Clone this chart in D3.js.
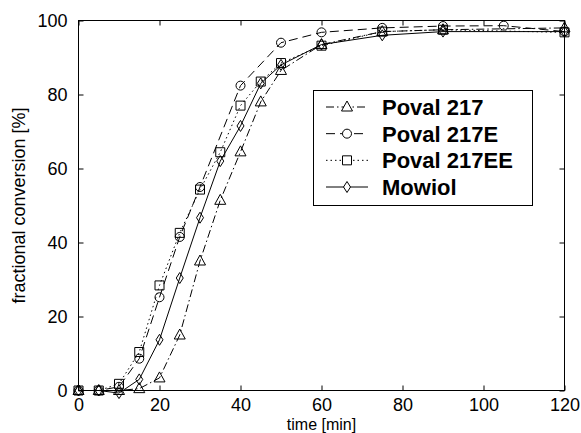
<!DOCTYPE html>
<html>
<head>
<meta charset="utf-8">
<script src="https://cdn.jsdelivr.net/npm/d3@7"></script>
<style>
  html, body { margin: 0; padding: 0; background: #fff; }
  svg { display: block; }
</style>
</head>
<body>
<svg id="chart" width="581" height="433"></svg>
<script>
// ---- data ----
const seriesNames = ["Poval 217", "Poval 217E", "Poval 217EE", "Mowiol"];
const timesPoval217   = [0, 5, 10, 15, 20, 25, 30, 35, 40, 45, 50, 60, 75, 90, 120];
const valuesPoval217  = [0, 0, 0, 0.5, 3.4, 15, 35, 51.4, 64.5, 78, 86.5, 93.5, 97, 97.5, 98];
const timesPoval217E  = [0, 5, 10, 15, 20, 25, 30, 40, 50, 60, 75, 90, 105, 120];
const valuesPoval217E = [0, 0, 1, 8.6, 25.2, 41.5, 55, 82.4, 94, 96.8, 98, 98.5, 98.6, 97];
const timesPoval217EE = [0, 5, 10, 15, 20, 25, 30, 35, 40, 45, 50, 60, 75, 90, 120];
const valuesPoval217EE= [0, 0, 1.8, 10.4, 28.4, 42.6, 54.3, 64.4, 77, 83.5, 88.5, 93.2, 97, 97.5, 96.8];
const timesMowiol     = [0, 5, 10, 15, 20, 25, 30, 35, 40, 45, 50, 60, 75, 90, 120];
const valuesMowiol    = [0, 0, -0.7, 3, 13.7, 30.4, 46.7, 62, 71.5, 83, 88, 93.5, 96, 97, 97];
const xTicks = [0, 20, 40, 60, 80, 100, 120];
const yTicks = [0, 20, 40, 60, 80, 100];
const xLabel = "time [min]";
const yLabel = "fractional conversion [%]";

const series = [
  { name: seriesNames[0], t: timesPoval217,   v: valuesPoval217,   marker: "triangle", dash: "8,3,1.5,3" },
  { name: seriesNames[1], t: timesPoval217E,  v: valuesPoval217E,  marker: "circle",   dash: "9,5" },
  { name: seriesNames[2], t: timesPoval217EE, v: valuesPoval217EE, marker: "square",   dash: "1.5,3" },
  { name: seriesNames[3], t: timesMowiol,     v: valuesMowiol,     marker: "diamond",  dash: null }
];

// ---- layout ----
const svg = d3.select("#chart");
const pL = 78.5, pR = 564.5, pT = 20.5, pB = 390.5;
const x = d3.scaleLinear().domain([0, 120]).range([pL, pR]);
const y = d3.scaleLinear().domain([0, 100]).range([pB, pT]);

const labelFont = "Arial, 'Liberation Sans', sans-serif";

// axes box
svg.append("rect").attr("x", pL).attr("y", pT)
  .attr("width", pR - pL).attr("height", pB - pT)
  .attr("fill", "none").attr("stroke", "#000").attr("stroke-width", 1);

// bottom axis
const xAxis = d3.axisBottom(x).tickValues(xTicks).tickSizeInner(-5).tickSizeOuter(0).tickPadding(8);
const gx = svg.append("g").attr("transform", `translate(0,${pB})`).call(xAxis);
gx.select(".domain").remove();
gx.selectAll("text").attr("font-family", labelFont).attr("font-size", 18).attr("fill", "#000");
// top axis ticks
const gxt = svg.append("g").attr("transform", `translate(0,${pT})`)
  .call(d3.axisTop(x).tickValues(xTicks).tickSizeInner(-5).tickSizeOuter(0).tickFormat(""));
gxt.select(".domain").remove();

// left axis
const yAxis = d3.axisLeft(y).tickValues(yTicks).tickSizeInner(-5).tickSizeOuter(0).tickPadding(11);
const gy = svg.append("g").attr("transform", `translate(${pL},0)`).call(yAxis);
gy.select(".domain").remove();
gy.selectAll("text").attr("font-family", labelFont).attr("font-size", 18).attr("fill", "#000");
// right axis ticks
const gyr = svg.append("g").attr("transform", `translate(${pR},0)`)
  .call(d3.axisRight(y).tickValues(yTicks).tickSizeInner(-5).tickSizeOuter(0).tickFormat(""));
gyr.select(".domain").remove();

svg.selectAll(".tick line").attr("stroke", "#000");

// axis labels
svg.append("text").attr("x", x(60)).attr("y", 429.6).attr("text-anchor", "middle")
  .attr("font-family", labelFont).attr("font-size", 16).text(xLabel);
svg.append("text").attr("transform", `translate(25,${(pT + pB) / 2}) rotate(-90)`)
  .attr("text-anchor", "middle").attr("font-family", labelFont).attr("font-size", 18).text(yLabel);

// marker shapes
function markerPath(type, cx, cy) {
  switch (type) {
    case "triangle": return `M${cx},${cy - 6}L${cx + 5.5},${cy + 4}L${cx - 5.5},${cy + 4}Z`;
    case "square":   return `M${cx - 4.5},${cy - 4.5}h9v9h-9Z`;
    case "diamond":  return `M${cx},${cy - 5.5}L${cx + 3.5},${cy}L${cx},${cy + 5.5}L${cx - 3.5},${cy}Z`;
    case "circle":   return `M${cx - 4.5},${cy}a4.5,4.5 0 1,0 9,0a4.5,4.5 0 1,0 -9,0Z`;
  }
}

const line = d3.line().x(d => x(d[0])).y(d => y(d[1]));

const plot = svg.append("g");
series.forEach(s => {
  const pts = s.t.map((t, i) => [t, s.v[i]]);
  plot.append("path").datum(pts).attr("d", line)
    .attr("fill", "none").attr("stroke", "#000").attr("stroke-width", 1)
    .attr("stroke-dasharray", s.dash);
  plot.selectAll(null).data(pts).enter().append("path")
    .attr("d", d => markerPath(s.marker, x(d[0]), y(d[1])))
    .attr("fill", "none").attr("stroke", "#000").attr("stroke-width", 1);
});

// legend
const lg = svg.append("g");
lg.append("rect").attr("x", 313.5).attr("y", 90.5).attr("width", 219).attr("height", 115)
  .attr("fill", "#fff").attr("stroke", "#000").attr("stroke-width", 1);
const rowY = d3.scalePoint().domain(seriesNames).range([107, 187]);
series.forEach(s => {
  const cy = rowY(s.name);
  lg.append("line").attr("x1", 326).attr("x2", 368).attr("y1", cy).attr("y2", cy)
    .attr("stroke", "#000").attr("stroke-width", 1).attr("stroke-dasharray", s.dash);
  lg.append("path").attr("d", markerPath(s.marker, 347, cy))
    .attr("fill", "#fff").attr("stroke", "#000").attr("stroke-width", 1);
  lg.append("text").attr("x", 382).attr("y", cy).attr("dy", "0.36em")
    .attr("font-family", labelFont).attr("font-weight", "bold").attr("font-size", 22)
    .text(s.name);
});
</script>
</body>
</html>
